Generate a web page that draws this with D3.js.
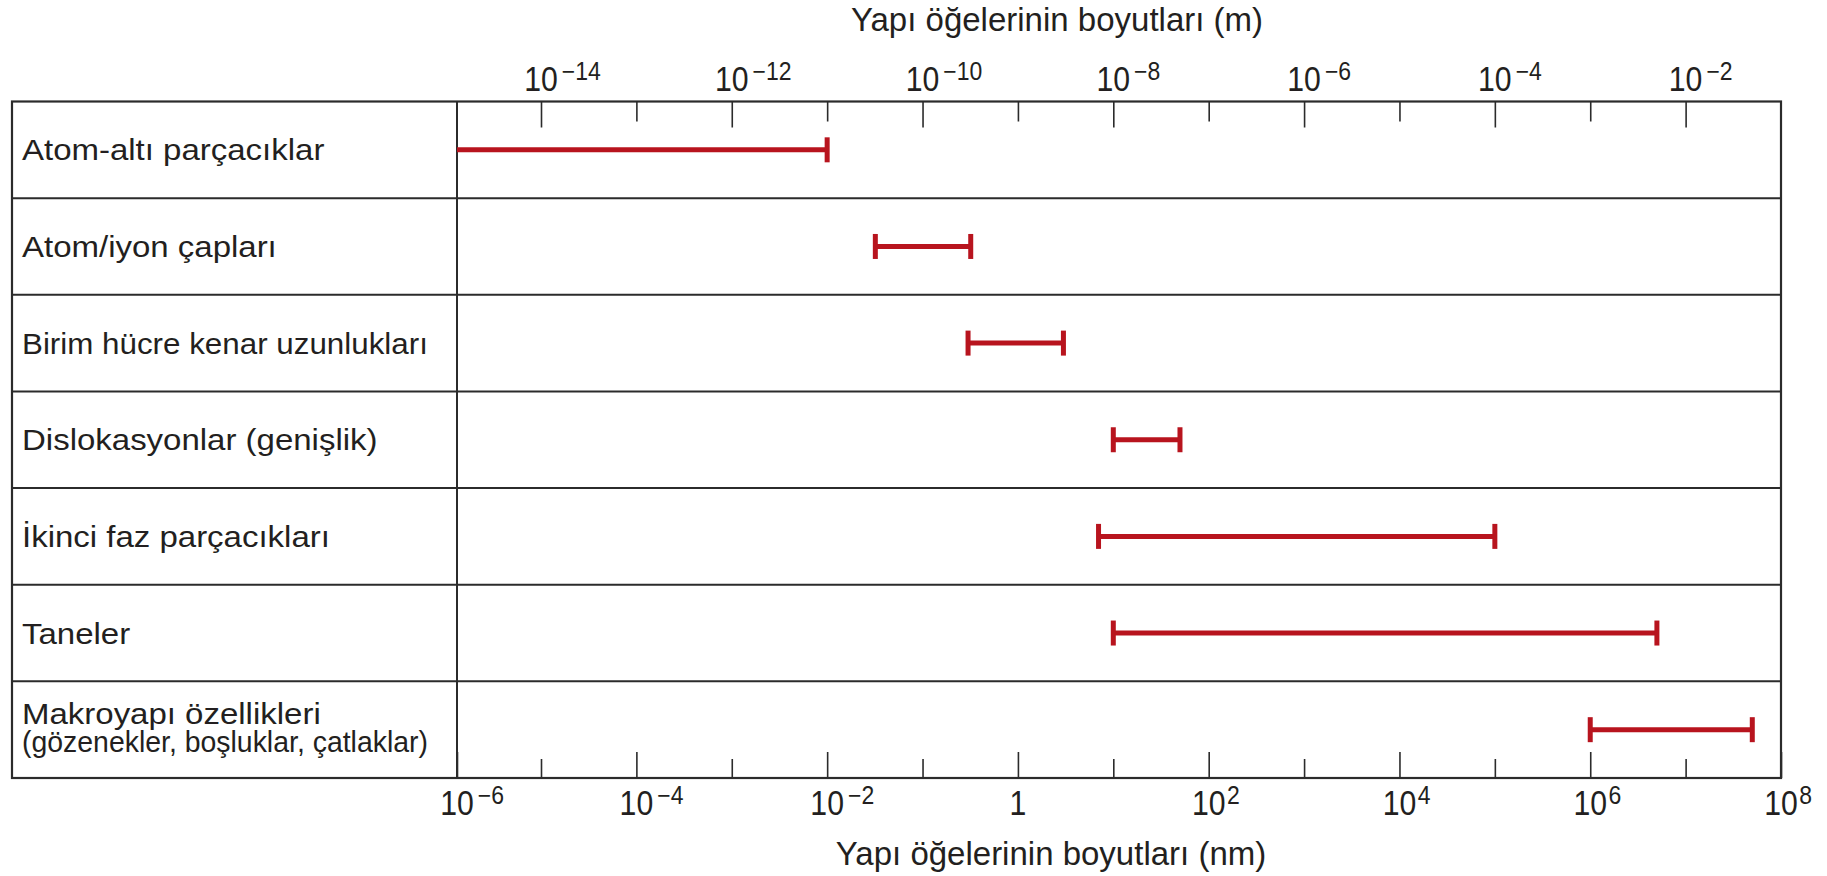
<!DOCTYPE html>
<html>
<head>
<meta charset="utf-8">
<script src="https://cdn.jsdelivr.net/npm/d3@7"></script>
<style>
  html, body { margin: 0; padding: 0; background: #fff; }
  svg { display: block; }
</style>
</head>
<body>
<svg id="chart" width="1827" height="876"></svg>
<script>
// ---------------- DATA ----------------
const categories = [
  "Atom-altı parçacıklar",
  "Atom/iyon çapları",
  "Birim hücre kenar uzunlukları",
  "Dislokasyonlar (genişlik)",
  "İkinci faz parçacıkları",
  "Taneler",
  "Makroyapı özellikleri\n(gözenekler, boşluklar, çatlaklar)"
];
// size ranges in nm (lower value of row 1 runs off the left edge of the scale)
const lowValues  = [1e-6, 0.032, 0.3, 10, 7, 10, 1e6];
const highValues = [0.01, 0.32, 3, 50, 1e5, 5e6, 5e7];
const lowCap     = [false, true, true, true, true, true, true];

const bottomLabelExps = [-6, -4, -2, 0, 2, 4, 6, 8];      // nm
const bottomMinorExps = [-5, -3, -1, 1, 3, 5, 7];
const topLabelExps    = [-14, -12, -10, -8, -6, -4, -2];  // m
const topMinorExps    = [-13, -11, -9, -7, -5, -3];

const topTitle    = "Yapı öğelerinin boyutları (m)";
const bottomTitle = "Yapı öğelerinin boyutları (nm)";

// ---------------- LAYOUT ----------------
const boxLeft = 12, boxRight = 1781, boxTop = 101.5, boxBottom = 778, divX = 457;
const lineColor = "#2b2b2b", textColor = "#231f20", red = "#b8141e";
const txtFont = "'Liberation Sans', Arial, sans-serif";

const svg = d3.select("#chart");

// piecewise log scale (first decade is compressed in the original figure)
const x = d3.scaleLog().domain([1e-6, 1e-5, 1e8]).range([divX, 541, boxRight]);
const xm = d3.scaleLog().domain([1e-15, 1e-14, 1e-1]).range([divX, 541, boxRight]);
const y = d3.scaleBand().domain(categories).range([boxTop, boxBottom]);

// ---------------- GRID / BOX ----------------
const grid = svg.append("g");
categories.slice(1).forEach(c => {
  grid.append("line")
    .attr("x1", boxLeft).attr("x2", boxRight)
    .attr("y1", y(c)).attr("y2", y(c))
    .attr("stroke", lineColor).attr("stroke-width", 2);
});
grid.append("line")
  .attr("x1", divX).attr("x2", divX).attr("y1", boxTop).attr("y2", boxBottom)
  .attr("stroke", lineColor).attr("stroke-width", 2);
grid.append("rect")
  .attr("x", boxLeft).attr("y", boxTop)
  .attr("width", boxRight - boxLeft).attr("height", boxBottom - boxTop)
  .attr("fill", "none").attr("stroke", lineColor).attr("stroke-width", 2.2);

// ---------------- AXES ----------------
function styleAxis(g) {
  g.select(".domain").remove();
  g.selectAll(".tick line").attr("stroke", lineColor).attr("stroke-width", 1.6);
  g.selectAll(".tick text").remove();
}
svg.append("g").attr("transform", `translate(0,${boxBottom})`)
  .call(d3.axisBottom(x).tickValues(bottomLabelExps.map(e => Math.pow(10, e))).tickSize(-26).tickFormat(""))
  .call(styleAxis);
svg.append("g").attr("transform", `translate(0,${boxBottom})`)
  .call(d3.axisBottom(x).tickValues(bottomMinorExps.map(e => Math.pow(10, e))).tickSize(-19).tickFormat(""))
  .call(styleAxis);
svg.append("g").attr("transform", `translate(0,${boxTop})`)
  .call(d3.axisTop(xm).tickValues(topLabelExps.map(e => Math.pow(10, e))).tickSize(-26).tickFormat(""))
  .call(styleAxis);
svg.append("g").attr("transform", `translate(0,${boxTop})`)
  .call(d3.axisTop(xm).tickValues(topMinorExps.map(e => Math.pow(10, e))).tickSize(-20).tickFormat(""))
  .call(styleAxis);

const squeeze = 0.84;  // condensed digits as in the original
function powerLabel(parent, px, baseline, exp) {
  const g = parent.append("g");
  const base = g.append("text")
    .attr("transform", `translate(${px},${baseline}) scale(${squeeze},1)`)
    .attr("text-anchor", "middle")
    .attr("font-family", txtFont).attr("font-size", 36)
    .attr("fill", textColor)
    .text(exp === 0 ? "1" : "10");
  if (exp !== 0) {
    const w = base.node().getComputedTextLength() * squeeze;
    g.append("text")
      .attr("transform", `translate(${px + w / 2 + (exp < 0 ? 4 : 1.5)},${baseline - 11}) scale(0.92,1)`)
      .attr("font-family", txtFont).attr("font-size", 25)
      .attr("fill", textColor)
      .text(exp < 0 ? "\u2212" + Math.abs(exp) : String(exp));
  }
}
const labels = svg.append("g");
bottomLabelExps.forEach(e => powerLabel(labels, x(Math.pow(10, e)), 815, e));
topLabelExps.forEach(e => powerLabel(labels, xm(Math.pow(10, e)), 90.7, e));

// titles
svg.append("text").attr("x", 1057).attr("y", 31)
  .attr("text-anchor", "middle").attr("font-family", txtFont).attr("font-size", 33)
  .attr("fill", textColor).text(topTitle);
svg.append("text").attr("x", 1051).attr("y", 865)
  .attr("text-anchor", "middle").attr("font-family", txtFont).attr("font-size", 33)
  .attr("fill", textColor).text(bottomTitle);

// ---------------- ROW LABELS ----------------
const labelX = 22, labelMaxWidth = 406, labelStretch = 1.10;
categories.forEach(c => {
  const lines = c.split("\n");
  const cy = y(c) + y.bandwidth() / 2;
  const start = lines.length > 1 ? cy - 6 : cy + 10.5;
  lines.forEach((ln, i) => {
    const by = start + i * 28;
    const t = svg.append("text")
      .attr("font-family", txtFont).attr("font-size", 30).attr("fill", textColor)
      .text(ln);
    const w = t.node().getComputedTextLength();
    const sx = Math.min(labelStretch, labelMaxWidth / w);
    t.attr("transform", `translate(${labelX},${by}) scale(${sx},1)`);
  });
});

// ---------------- RANGE BARS ----------------
const bars = svg.append("g");
categories.forEach((c, i) => {
  const cy = y(c) + y.bandwidth() / 2;
  const x0 = x(lowValues[i]), x1 = x(highValues[i]);
  bars.append("line").attr("x1", x0).attr("x2", x1).attr("y1", cy).attr("y2", cy)
    .attr("stroke", red).attr("stroke-width", 5);
  if (lowCap[i]) {
    bars.append("line").attr("x1", x0).attr("x2", x0).attr("y1", cy - 12.5).attr("y2", cy + 12.5)
      .attr("stroke", red).attr("stroke-width", 5);
  }
  bars.append("line").attr("x1", x1).attr("x2", x1).attr("y1", cy - 12.5).attr("y2", cy + 12.5)
    .attr("stroke", red).attr("stroke-width", 5);
});
</script>
</body>
</html>
